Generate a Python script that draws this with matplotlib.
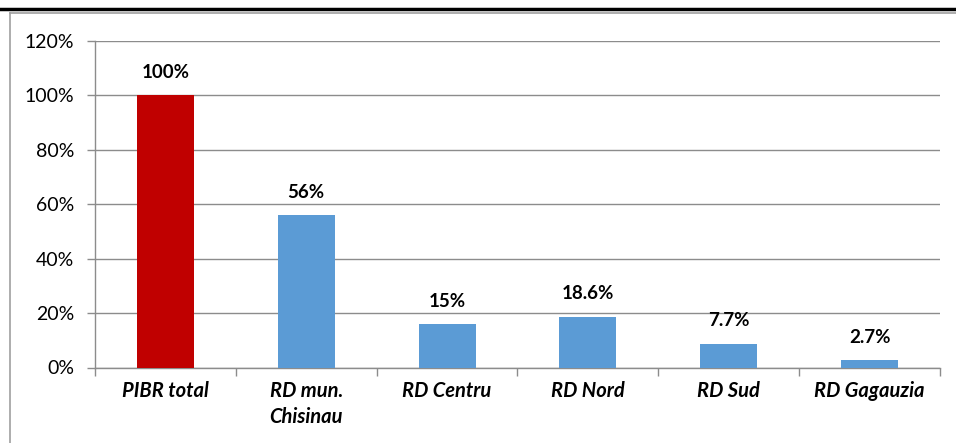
import matplotlib.pyplot as plt
from matplotlib.lines import Line2D
from matplotlib.ticker import PercentFormatter

categories = ['PIBR total', 'RD mun.\nChisinau', 'RD Centru', 'RD Nord', 'RD Sud', 'RD Gagauzia']
values = [100, 56, 16, 18.6, 8.8, 2.7]
value_labels = ['100%', '56%', '15%', '18.6%', '7.7%', '2.7%']
colors = ['#C00000', '#5B9BD5', '#5B9BD5', '#5B9BD5', '#5B9BD5', '#5B9BD5']
yticks = [0, 20, 40, 60, 80, 100, 120]

plt.rcParams['font.family'] = ['Lato', 'DejaVu Sans']
W, H = 956, 443
fig = plt.figure(figsize=(W / 100, H / 100), dpi=100)
ax = fig.add_axes([95 / W, 1 - 367.5 / H, 845 / W, 326.5 / H])

x = range(len(categories))
ax.bar(x, values, width=0.405, color=colors, zorder=3)
for xi, v, lab in zip(x, values, value_labels):
    ax.annotate(lab, (xi, v), xytext=(0, 16.5), textcoords='offset points',
                ha='center', va='center', fontsize=13.5, fontweight='bold')

ax.set_xlim(-0.5, len(categories) - 0.5)
ax.set_ylim(0, 120)
ax.set_yticks(yticks)
ax.yaxis.set_major_formatter(PercentFormatter(decimals=0))
ax.grid(axis='y', color='#8c8c8c', linewidth=1, zorder=0)

ax.set_xticks([i + 0.5 for i in range(-1, len(categories))], minor=False)
ax.set_xticklabels([])
ax.set_xticks(list(x), minor=True)
ax.set_xticklabels(categories, minor=True, fontsize=14.5, fontweight='bold', style='italic',
                   linespacing=1.35, va='top')
ax.tick_params(axis='x', which='minor', length=0, pad=10)
ax.tick_params(axis='x', which='major', length=6, color='#8c8c8c', width=1)
ax.tick_params(axis='y', length=6, color='#8c8c8c', width=1, labelsize=14, pad=9)

for s in ['top', 'right']:
    ax.spines[s].set_visible(False)
for s in ['left', 'bottom']:
    ax.spines[s].set_color('#8c8c8c')
    ax.spines[s].set_linewidth(1)

# outer frame of the page
fig.add_artist(Line2D([0, 1], [1 - 8.5 / H, 1 - 8.5 / H], color='black', linewidth=2.5, transform=fig.transFigure))
fig.add_artist(Line2D([10 / W, 1], [1 - 12.5 / H, 1 - 12.5 / H], color='#a0a0a0', linewidth=1.2, transform=fig.transFigure))
fig.add_artist(Line2D([10 / W, 10 / W], [0, 1 - 12.5 / H], color='#a0a0a0', linewidth=1.2, transform=fig.transFigure))

fig.savefig('out.png', dpi=100)
